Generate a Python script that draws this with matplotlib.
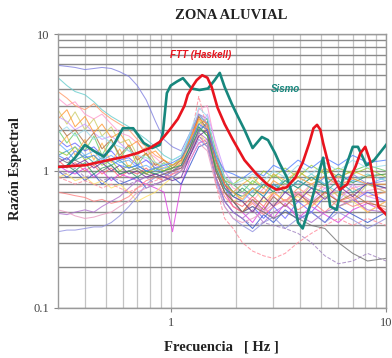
import numpy as np
import matplotlib
matplotlib.use("Agg")
import matplotlib.pyplot as plt
from matplotlib.ticker import FixedLocator, NullFormatter

# frecuencias comunes de las razones espectrales (estaciones)
frec = [0.30, 0.33, 0.36, 0.40, 0.44, 0.48, 0.53, 0.58, 0.64, 0.70, 0.77, 0.85, 0.93,
        1.02, 1.12, 1.23, 1.35, 1.48, 1.62, 1.78, 1.95, 2.15, 2.4, 2.7, 3.0, 3.4, 3.9,
        4.5, 5.2, 6.0, 7.0, 8.2, 10.0]

est01 = [5.9, 5.8, 5.7, 5.5, 5.6, 5.7, 5.6, 5.3, 4.9, 4.2, 3.3, 2.3, 1.7, 1.5, 1.4, 1.9, 2.6, 2.4, 1.3, 0.8, 0.7, 0.65, 0.75, 0.65, 0.8, 0.7, 0.85, 0.75, 0.9, 0.8, 0.95, 0.8, 0.85]
est02 = [4.8, 4.2, 3.8, 3.6, 3.2, 2.8, 2.5, 2.3, 2.1, 1.9, 1.7, 1.5, 1.3, 1.2, 1.3, 1.8, 2.5, 2.2, 1.2, 0.8, 0.7, 0.8, 0.7, 0.85, 0.7, 0.9, 0.8, 0.95, 0.8, 0.7, 0.85, 0.95, 0.85]
est03 = [3.8, 3.4, 3.0, 2.8, 3.1, 2.7, 2.4, 2.2, 2.0, 1.7, 1.5, 1.3, 1.2, 1.1, 1.2, 1.6, 2.2, 2.0, 1.1, 0.7, 0.55, 0.5, 0.6, 0.5, 0.7, 0.6, 0.75, 0.65, 0.8, 0.65, 0.75, 0.65, 0.7]
est04 = [3.4, 3.0, 3.2, 2.6, 2.4, 2.6, 2.2, 1.9, 1.8, 1.6, 1.4, 1.25, 1.1, 1.0, 1.1, 1.5, 2.8, 3.0, 1.5, 0.9, 0.75, 0.7, 0.6, 0.75, 0.65, 0.8, 0.65, 0.8, 0.75, 0.9, 0.75, 0.8, 0.7]
est05 = [2.8, 2.2, 2.7, 2.0, 2.4, 1.8, 2.1, 1.6, 1.7, 1.3, 1.5, 1.15, 1.05, 1.0, 1.15, 1.7, 2.3, 2.1, 1.2, 0.85, 0.7, 0.6, 0.5, 0.65, 0.55, 0.75, 0.6, 0.8, 0.65, 0.7, 0.6, 0.8, 0.7]
est06 = [2.5, 2.3, 2.0, 2.2, 1.9, 1.7, 1.8, 1.6, 1.4, 1.3, 1.2, 1.1, 1.0, 0.95, 1.05, 1.4, 2.0, 2.6, 1.6, 1.0, 0.8, 0.7, 0.6, 0.5, 0.65, 0.55, 0.7, 0.6, 0.75, 0.6, 0.8, 0.65, 0.6]
est07 = [2.0, 1.6, 1.9, 1.4, 1.8, 1.3, 1.7, 1.25, 1.5, 1.1, 1.35, 1.0, 1.15, 1.0, 1.1, 1.5, 2.2, 2.4, 1.4, 0.9, 0.8, 0.7, 0.85, 0.75, 0.95, 0.8, 1.0, 0.85, 1.05, 0.9, 1.0, 1.1, 1.0]
est08 = [1.7, 1.5, 1.6, 1.4, 1.5, 1.3, 1.4, 1.2, 1.25, 1.1, 1.2, 1.05, 0.95, 0.9, 1.0, 1.3, 2.0, 2.2, 1.2, 0.75, 0.6, 0.5, 0.55, 0.45, 0.55, 0.45, 0.6, 0.5, 0.65, 0.55, 0.6, 0.7, 0.6]
est09 = [1.5, 1.8, 1.3, 1.7, 1.2, 1.6, 1.15, 1.45, 1.05, 1.3, 0.95, 1.15, 1.0, 1.05, 1.15, 1.6, 2.4, 1.9, 1.1, 0.8, 0.7, 0.8, 0.9, 0.75, 0.95, 0.85, 1.0, 0.85, 1.05, 0.9, 1.0, 0.9, 0.95]
est10 = [1.3, 1.4, 1.2, 1.3, 1.15, 1.25, 1.1, 1.2, 1.05, 1.1, 1.0, 0.95, 0.9, 1.0, 1.1, 1.5, 1.9, 2.3, 1.3, 0.85, 0.7, 0.65, 0.75, 0.65, 0.8, 0.7, 0.85, 0.75, 0.7, 0.85, 0.7, 0.8, 0.75]
est11 = [1.2, 1.05, 1.15, 1.0, 1.1, 0.95, 1.05, 0.9, 1.0, 0.95, 1.05, 0.9, 0.85, 0.95, 1.0, 1.4, 2.6, 2.2, 1.2, 0.8, 0.6, 0.55, 0.65, 0.55, 0.7, 0.6, 0.7, 0.55, 0.7, 0.6, 0.65, 0.5, 0.6]
est12 = [1.1, 1.0, 0.95, 1.05, 0.9, 1.0, 0.85, 0.95, 0.9, 0.85, 0.8, 0.75, 0.7, 0.36, 0.8, 1.2, 1.6, 1.7, 1.0, 0.7, 0.55, 0.5, 0.42, 0.55, 0.45, 0.58, 0.45, 0.55, 0.48, 0.42, 0.52, 0.58, 0.5]
est13 = [1.0, 0.9, 1.0, 0.85, 0.95, 0.8, 0.9, 0.8, 0.85, 0.9, 0.75, 0.8, 0.85, 0.9, 0.8, 1.1, 1.5, 1.6, 0.9, 0.6, 0.5, 0.45, 0.38, 0.48, 0.42, 0.52, 0.44, 0.5, 0.42, 0.55, 0.48, 0.42, 0.5]
est14 = [0.9, 0.95, 0.85, 0.9, 0.8, 0.85, 0.75, 0.8, 0.7, 0.6, 0.65, 0.7, 0.8, 0.9, 1.0, 1.3, 1.9, 1.6, 1.0, 0.7, 0.6, 0.65, 0.75, 0.6, 0.7, 0.6, 0.65, 0.55, 0.65, 0.55, 0.6, 0.5, 0.6]
est15 = [0.7, 0.68, 0.66, 0.64, 0.6, 0.62, 0.58, 0.6, 0.65, 0.75, 0.85, 0.9, 0.95, 1.0, 1.05, 1.3, 1.8, 1.5, 0.9, 0.65, 0.55, 0.5, 0.58, 0.48, 0.55, 0.62, 0.52, 0.6, 0.5, 0.62, 0.55, 0.6, 0.52]
est16 = [0.49, 0.48, 0.5, 0.52, 0.5, 0.55, 0.6, 0.65, 0.75, 0.85, 0.9, 0.95, 0.9, 1.0, 1.1, 1.4, 1.9, 1.7, 0.9, 0.6, 0.5, 0.45, 0.52, 0.42, 0.5, 0.56, 0.48, 0.42, 0.5, 0.55, 0.62, 0.52, 0.5]
est17 = [0.36, 0.37, 0.37, 0.38, 0.39, 0.39, 0.42, 0.47, 0.55, 0.65, 0.8, 0.9, 0.95, 0.9, 1.0, 1.3, 1.7, 1.5, 0.85, 0.55, 0.45, 0.4, 0.36, 0.42, 0.46, 0.38, 0.45, 0.5, 0.42, 0.5, 0.44, 0.38, 0.45]
est18 = [0.52, 0.5, 0.47, 0.45, 0.46, 0.48, 0.5, 0.55, 0.6, 0.7, 0.75, 0.8, 0.85, 0.95, 1.0, 1.2, 1.6, 1.4, 0.8, 0.55, 0.45, 0.42, 0.45, 0.5, 0.58, 0.6, 0.7, 0.6, 0.68, 0.72, 0.62, 0.72, 0.75]
est19 = [1.6, 1.4, 1.5, 1.3, 1.4, 1.2, 1.3, 1.15, 1.2, 1.05, 1.1, 1.0, 1.05, 1.1, 1.2, 1.8, 2.6, 2.2, 1.1, 0.75, 0.65, 0.6, 0.72, 0.8, 0.75, 0.85, 0.75, 0.9, 0.8, 0.95, 0.85, 0.8, 0.9]
est20 = [2.2, 1.8, 2.0, 1.6, 1.9, 1.45, 1.7, 1.3, 1.55, 1.2, 1.35, 1.1, 1.2, 1.05, 1.2, 1.7, 2.5, 2.0, 1.0, 0.7, 0.6, 0.5, 0.62, 0.52, 0.65, 0.55, 0.68, 0.58, 0.7, 0.6, 0.68, 0.58, 0.55]
est21 = [1.4, 1.3, 1.5, 1.2, 1.3, 1.1, 1.2, 1.0, 1.1, 1.0, 0.95, 1.05, 1.0, 1.1, 1.25, 1.6, 2.1, 1.8, 1.1, 0.85, 0.8, 0.9, 0.8, 1.0, 0.9, 1.05, 0.9, 1.1, 0.95, 1.05, 0.95, 1.05, 0.9]
est22 = [0.9, 0.85, 0.8, 0.85, 0.8, 0.75, 0.8, 0.75, 0.7, 0.75, 0.8, 0.85, 0.9, 0.95, 1.1, 1.6, 3.5, 2.0, 0.8, 0.45, 0.38, 0.3, 0.26, 0.24, 0.23, 0.25, 0.3, 0.35, 0.4, 0.45, 0.4, 0.45, 0.4]
est23 = [1.0, 0.95, 1.05, 0.9, 0.95, 0.85, 0.9, 0.85, 0.8, 0.85, 0.9, 0.8, 0.85, 0.9, 1.0, 1.3, 1.8, 1.6, 0.9, 0.6, 0.5, 0.45, 0.4, 0.42, 0.4, 0.38, 0.35, 0.3, 0.24, 0.21, 0.22, 0.25, 0.22]
est24 = [1.25, 1.15, 1.2, 1.1, 1.15, 1.0, 1.1, 0.95, 1.0, 1.05, 0.95, 0.9, 0.95, 1.0, 1.05, 1.4, 2.0, 1.9, 1.0, 0.7, 0.6, 0.5, 0.55, 0.5, 0.45, 0.5, 0.45, 0.4, 0.38, 0.3, 0.25, 0.22, 0.23]
est25 = [1.9, 2.1, 1.8, 2.0, 1.7, 1.8, 1.6, 1.5, 1.4, 1.3, 1.25, 1.15, 1.1, 1.2, 1.3, 1.9, 2.9, 2.5, 1.3, 0.9, 0.8, 0.85, 0.95, 0.85, 1.0, 0.9, 1.1, 0.95, 1.15, 1.0, 1.2, 1.05, 1.1]
est26 = [1.15, 1.25, 1.1, 1.2, 1.05, 1.15, 1.0, 1.1, 0.95, 1.0, 0.9, 0.95, 0.9, 0.85, 0.9, 1.3, 1.8, 2.0, 1.2, 0.8, 0.65, 0.6, 0.5, 0.65, 0.55, 0.7, 0.6, 0.75, 0.62, 0.78, 0.65, 0.82, 0.75]
est27 = [1.05, 1.1, 1.0, 1.15, 0.95, 1.05, 1.1, 0.95, 1.0, 0.9, 1.0, 0.95, 1.0, 1.05, 1.1, 1.5, 2.1, 1.8, 1.05, 0.75, 0.65, 0.75, 0.65, 0.8, 0.7, 0.85, 0.75, 0.9, 0.78, 0.95, 0.82, 0.92, 0.95]
est28 = [2.4, 2.8, 2.1, 2.5, 1.9, 2.2, 1.75, 1.9, 1.5, 1.65, 1.3, 1.4, 1.2, 1.1, 1.2, 1.7, 2.4, 2.2, 1.2, 0.8, 0.7, 0.62, 0.75, 0.68, 0.85, 0.75, 0.9, 0.8, 0.92, 0.78, 0.88, 0.8, 0.8]
est29 = [1.3, 1.2, 1.4, 1.25, 1.3, 1.15, 1.2, 1.1, 1.05, 1.1, 1.0, 1.05, 1.1, 1.15, 1.25, 1.6, 2.2, 2.0, 1.3, 1.0, 0.95, 0.88, 1.0, 0.92, 1.1, 1.0, 1.2, 1.05, 1.25, 1.1, 1.3, 1.15, 1.2]

# registro del sismo
frec_sismo = [0.30, 0.33, 0.36, 0.40, 0.44, 0.49, 0.55, 0.60, 0.67, 0.75, 0.82, 0.89, 0.92, 0.96,
              1.0, 1.07, 1.14, 1.25, 1.36, 1.49, 1.60, 1.69, 1.78, 1.92, 2.05, 2.2, 2.4, 2.65,
              2.83, 3.05, 3.2, 3.46, 3.7, 3.9, 4.1, 4.5, 4.9, 5.1, 5.5, 5.9, 6.4, 7.0, 7.4,
              8.1, 8.8, 10.0]
razon_sismo = [1.07, 1.08, 1.25, 1.55, 1.4, 1.27, 1.6, 2.05, 2.05, 1.6, 1.47, 1.55, 1.9, 3.7,
               4.2, 4.5, 4.76, 4.0, 3.9, 4.0, 4.6, 5.2, 4.1, 3.1, 2.5, 2.0, 1.47, 1.77,
               1.68, 1.35, 1.14, 0.9, 0.65, 0.42, 0.38, 0.6, 1.0, 1.25, 0.55, 0.52, 1.0, 1.5, 1.5,
               1.1, 1.2, 1.55]

# funcion de transferencia teorica (Haskell)
frec_ftt = [0.30, 0.40, 0.49, 0.61, 0.70, 0.80, 0.89, 0.99, 1.08, 1.16, 1.20, 1.27, 1.32, 1.40,
            1.48, 1.55, 1.65, 1.78, 1.94, 2.2, 2.5, 2.8, 3.1, 3.46, 3.8, 4.1, 4.4, 4.6, 4.78,
            4.95, 5.1, 5.5, 6.1, 6.6, 7.2, 7.6, 8.0, 8.4, 9.2, 10.0]
razon_ftt = [1.07, 1.1, 1.18, 1.27, 1.35, 1.47, 1.63, 2.0, 2.4, 3.0, 3.6, 4.2, 4.6, 5.0,
             4.8, 4.1, 2.9, 2.2, 1.7, 1.2, 0.95, 0.8, 0.73, 0.76, 0.9, 1.15, 1.6, 2.05, 2.17,
             2.0, 1.6, 1.0, 0.73, 0.8, 1.07, 1.35, 1.5, 1.2, 0.55, 0.48]

estaciones = [est01, est02, est03, est04, est05, est06, est07, est08, est09, est10,
              est11, est12, est13, est14, est15, est16, est17, est18, est19, est20,
              est21, est22, est23, est24, est25, est26, est27, est28, est29]
colores = ['#8080E0', '#66CCCC', '#FF9966', '#FF99CC', '#CCCC66', '#CC99FF', '#66CC66',
           '#6666FF', '#FFB347', '#33A0A0', '#FF6666', '#E040E0', '#3355CC', '#FFE066',
           '#FF8080', '#B070D0', '#9090E0', '#E89AC0', '#66B2FF', '#B07040', '#99CC33',
           '#FF8899', '#A080C0', '#707070', '#99DDEE', '#7030A0', '#339966', '#FF9933',
           '#5080FF']
estilos = ['-'] * len(estaciones)
estilos[21] = '--'
estilos[22] = '--'

fig = plt.figure(figsize=(3.92, 3.58), dpi=100)
ax = fig.add_axes([0.148, 0.140, 0.837, 0.765])

for serie, c, ls in zip(estaciones, colores, estilos):
    ax.plot(frec, serie, color=c, lw=0.75, ls=ls, alpha=0.8, zorder=2)

ax.plot(frec_ftt, razon_ftt, color='#E8141E', lw=1.9, zorder=4)
ax.plot(frec_sismo, razon_sismo, color='#17877D', lw=1.9, zorder=3)

ax.set_xscale('log')
ax.set_yscale('log')
ax.set_xlim(0.3, 10)
ax.set_ylim(0.1, 10)

ax.xaxis.set_major_locator(FixedLocator([1, 10]))
ax.xaxis.set_minor_locator(FixedLocator([0.4, 0.5, 0.6, 0.7, 0.8, 0.9, 2, 3, 4, 5, 6, 7, 8, 9]))
ax.yaxis.set_major_locator(FixedLocator([0.1, 1, 10]))
ax.yaxis.set_minor_locator(FixedLocator([0.2, 0.3, 0.4, 0.5, 0.6, 0.7, 0.8, 0.9,
                                         2, 3, 4, 5, 6, 7, 8, 9]))
ax.set_xticklabels(['1', '10'])
ax.set_yticklabels(['0.1', '1', '10'])
ax.xaxis.set_minor_formatter(NullFormatter())
ax.yaxis.set_minor_formatter(NullFormatter())

ax.grid(True, which='both', axis='y', color='#8a8a8a', lw=1.0, zorder=1)
ax.grid(True, which='both', axis='x', color='#c4c4c4', lw=0.9, zorder=1)
ax.set_axisbelow(True)
ax.tick_params(which='major', length=3, color='#888888', labelsize=9, labelcolor='#444444')
ax.tick_params(which='minor', length=0)
for lab in ax.get_xticklabels() + ax.get_yticklabels():
    lab.set_family('Liberation Serif')

for s in ax.spines.values():
    s.set_color('#9a9a9a')
    s.set_linewidth(1.0)

ax.text(1.37, 7.0, 'FTT (Haskell)', color='#E8141E', fontsize=7, fontweight='bold',
        fontstyle='italic', family='Liberation Sans', ha='center', va='center')
ax.text(3.4, 4.0, 'Sismo', color='#17877D', fontsize=7, fontweight='bold',
        fontstyle='italic', family='Liberation Sans', ha='center', va='center')

fig.text(0.59, 0.957, 'ZONA ALUVIAL', ha='center', va='center', fontsize=10.5,
         fontweight='bold', family='Liberation Serif', color='#222222')
fig.text(0.04, 0.53, 'Razón Espectral', rotation=90, ha='center', va='center',
         fontsize=10.5, fontweight='bold', family='Liberation Serif', color='#222222')
fig.text(0.565, 0.03, 'Frecuencia   [ Hz ]', ha='center', va='center', fontsize=10.5,
         fontweight='bold', family='Liberation Serif', color='#222222')

fig.savefig('out.png', dpi=100)
